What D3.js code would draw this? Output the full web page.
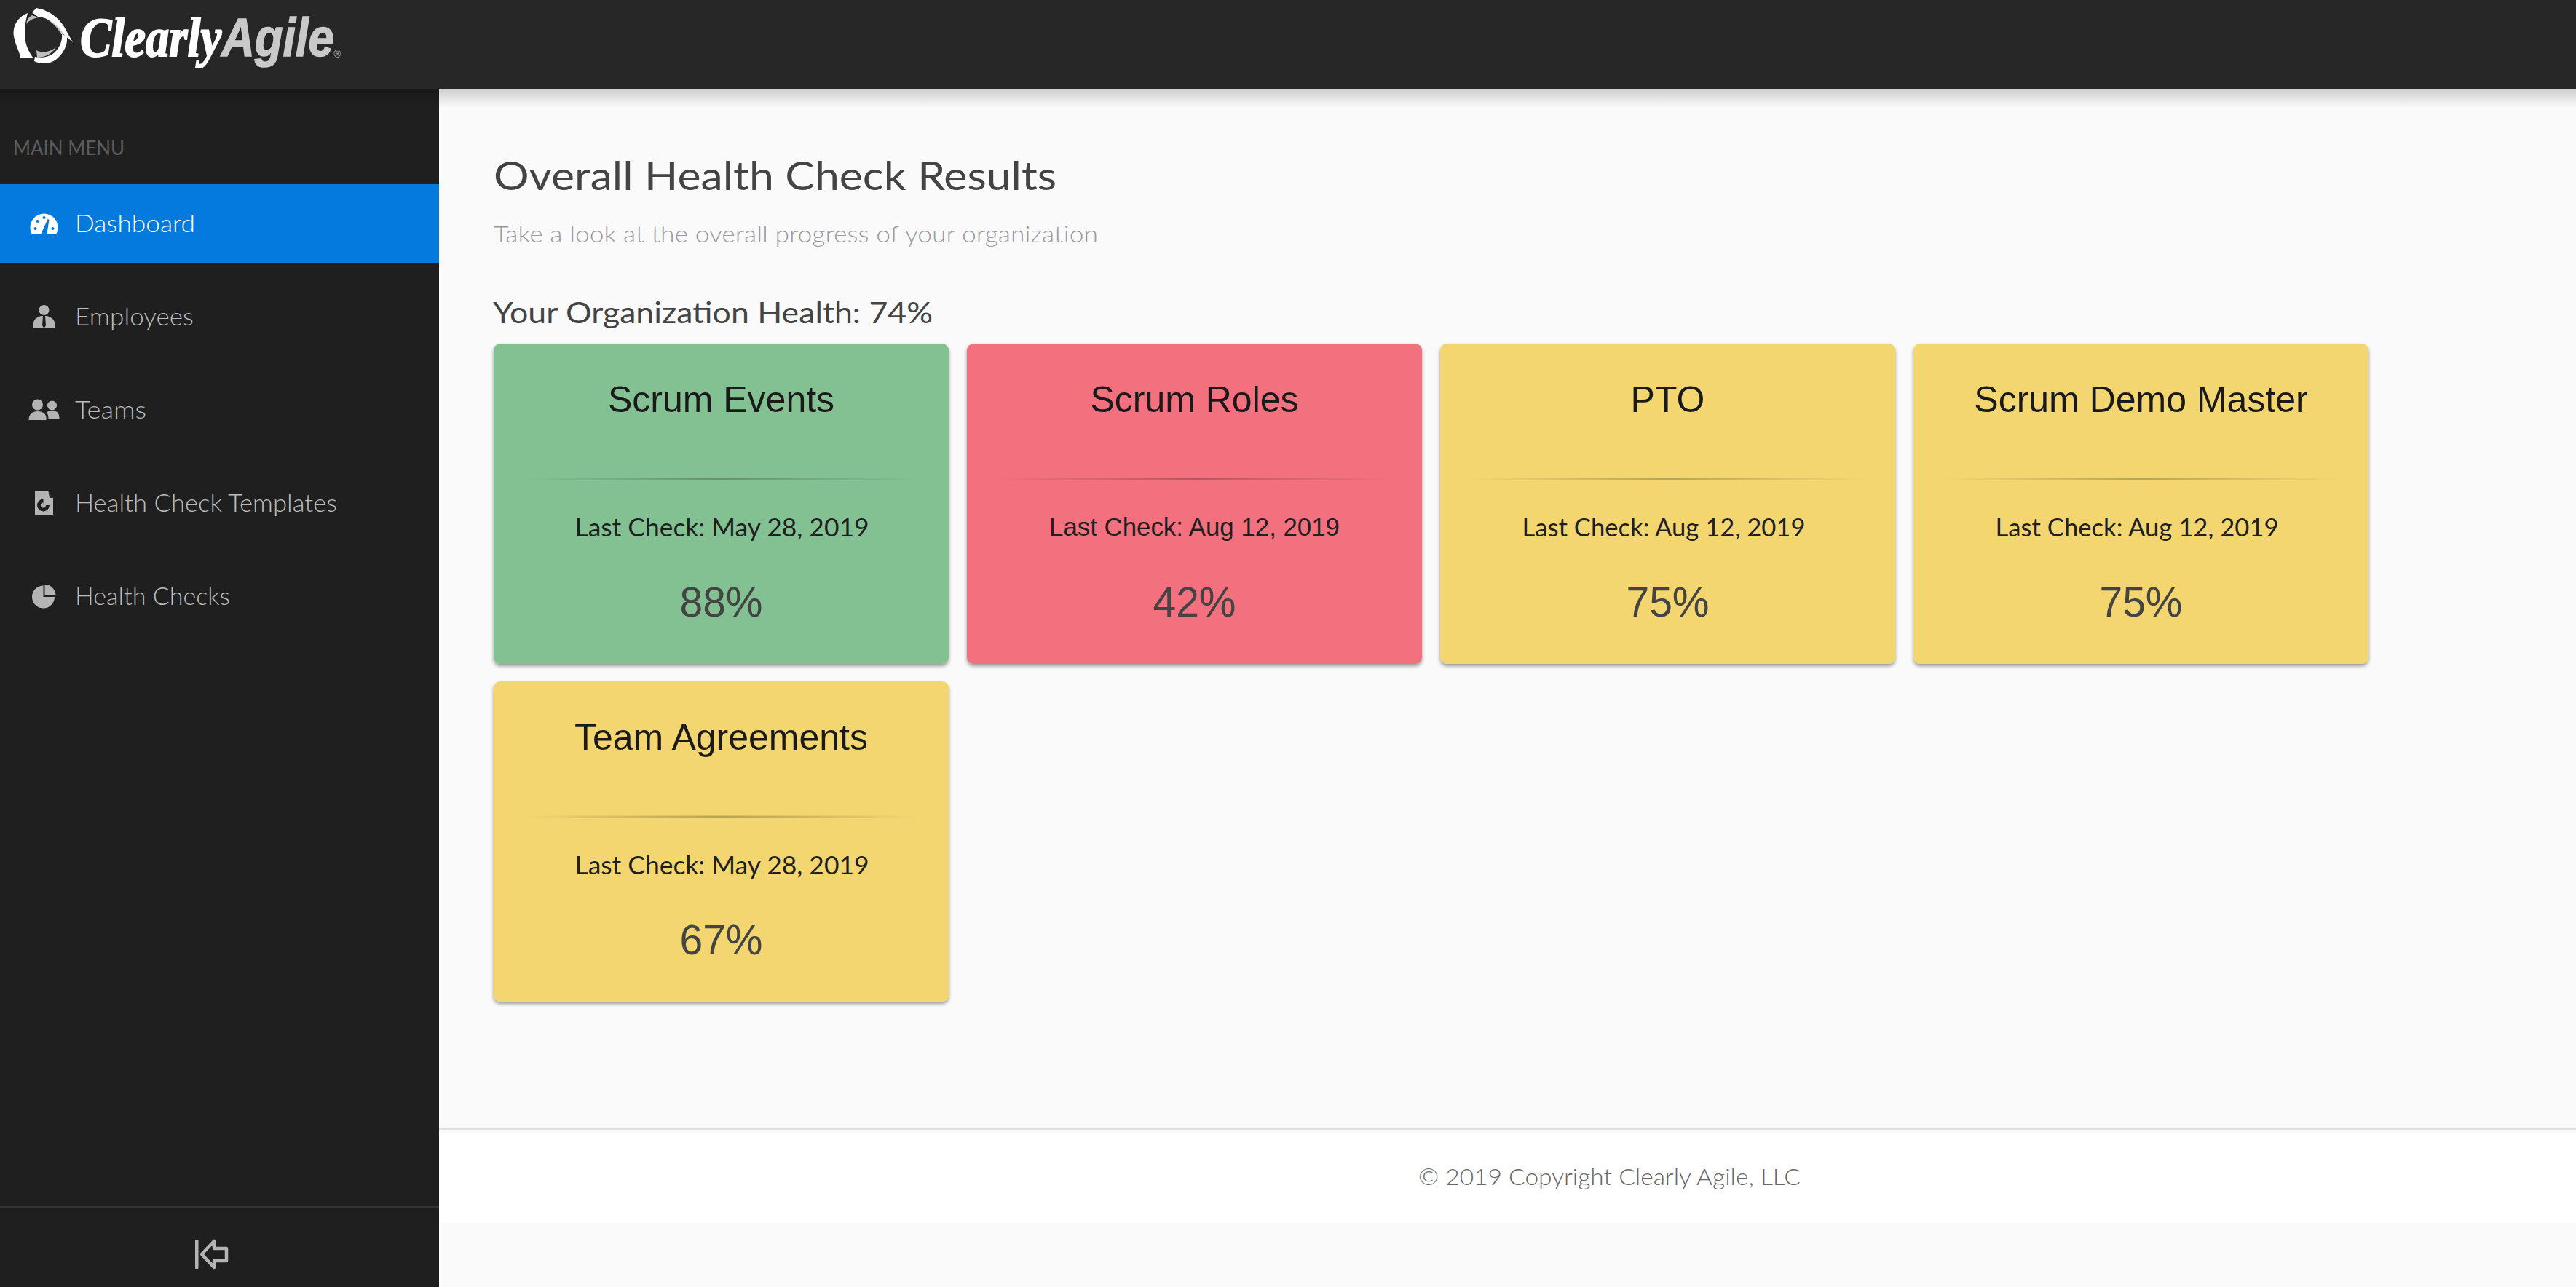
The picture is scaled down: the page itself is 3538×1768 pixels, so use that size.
<!DOCTYPE html>
<html>
<head>
<meta charset="utf-8">
<title>Overall Health Check Results</title>
<script src="https://cdnjs.cloudflare.com/ajax/libs/d3/7.8.5/d3.min.js"></script>
<style>
  html, body { margin: 0; padding: 0; background: #fafafa; }
  svg { display: block; }
  .q { font-family: "Lato", "Open Sans", sans-serif; font-weight: 300; }
  .a { font-family: "Liberation Sans", Arial, sans-serif; }
</style>
</head>
<body>
<svg id="page" width="3538" height="1768"></svg>
<script>
// Data
const menuLabels = ["Dashboard", "Employees", "Teams", "Health Check Templates", "Health Checks"];
const cardTitles = ["Scrum Events", "Scrum Roles", "PTO", "Scrum Demo Master", "Team Agreements"];
const cardDates = ["May 28, 2019", "Aug 12, 2019", "Aug 12, 2019", "Aug 12, 2019", "May 28, 2019"];
const cardScores = [88, 42, 75, 75, 67];
const organizationHealth = 74;

const cards = cardTitles.map((title, i) => ({ title, date: cardDates[i], score: cardScores[i], i }));

// Measured text widths: the page font is not installed so the stand-in gets squeezed to fit.
const menuWidths = { "Dashboard": 165, "Employees": 163, "Teams": 98, "Health Check Templates": 360, "Health Checks": 213 };
// The "Last Check" lines differ per card in the screenshot (the second one is even in another font)
const dateWidths = [404, 399, 389, 389, 404];
const dateOffsets = [1, 0, -5.5, -5.5, 1];
const dateClass = ["q", "a", "q", "q", "q"];

const width = 3538, height = 1768;
const headerH = 122, sideW = 603;
const svg = d3.select("#page");
const defs = svg.append("defs");

// Gradients and the card shadow
function vGradient(id, top, bottom) {
  const g = defs.append("linearGradient").attr("id", id).attr("x1", 0).attr("y1", 0).attr("x2", 0).attr("y2", 1);
  g.append("stop").attr("offset", 0).attr("stop-color", top);
  g.append("stop").attr("offset", 1).attr("stop-color", bottom);
}
vGradient("headShadow", "#cfcfcf", "#fafafa");
vGradient("sideShadow", "#181818", "#1f1f1f");

const dg = defs.append("linearGradient").attr("id", "divider");
dg.append("stop").attr("offset", 0).attr("stop-color", "#000").attr("stop-opacity", 0);
dg.append("stop").attr("offset", 0.5).attr("stop-color", "#000").attr("stop-opacity", 0.24);
dg.append("stop").attr("offset", 1).attr("stop-color", "#000").attr("stop-opacity", 0);

const shadow = defs.append("filter").attr("id", "cardShadow")
  .attr("x", "-5%").attr("y", "-5%").attr("width", "110%").attr("height", "110%");
shadow.append("feDropShadow").attr("dx", 0).attr("dy", 3).attr("stdDeviation", 2.5)
  .attr("flood-color", "#000").attr("flood-opacity", 0.4);

// Backgrounds
svg.append("rect").attr("width", width).attr("height", height).attr("fill", "#fafafa");
svg.append("rect").attr("x", sideW).attr("y", headerH).attr("width", width - sideW).attr("height", 26).attr("fill", "url(#headShadow)");
svg.append("rect").attr("y", headerH).attr("width", sideW).attr("height", height - headerH).attr("fill", "#1f1f1f");
svg.append("rect").attr("y", headerH).attr("width", sideW).attr("height", 24).attr("fill", "url(#sideShadow)");
svg.append("rect").attr("width", width).attr("height", headerH).attr("fill", "#272727");

// Logo
const logo = svg.append("g");
logo.append("path").attr("fill", "#bdbdbd")
  .attr("d", "M36,33C37,27 40,23 44,21L53,24C46,25 40,28 36,33ZM64,26C75,30 84,38 90,47L84,47C79,38 72,31 64,26ZM50,69C57,73 68,72 77,65C71,74 62,79 51,79Z");
logo.append("path").attr("fill", "#fff")
  .attr("d", "M38,18C23,24 17,37 19,50C21,62 27,71 28,79L46,80C39,71 34,60 34,46C34,34 36,26 38,18Z");
logo.append("path").attr("fill", "#fff")
  .attr("d", "M44,17L50,11C68,14 84,26 92,44L100,58L88,48C80,34 66,24 52,23Z");
logo.append("path").attr("fill", "#fff")
  .attr("d", "M47,84C60,90 73,87 81,78C89,70 93,60 92,50L85,47C86,56 82,65 75,72C67,79 56,80 48,78Z");

// one text element so the wordmark stays a single run
const wordmark = logo.append("text").attr("x", 110).attr("y", 77)
  .attr("textLength", 358).attr("lengthAdjust", "spacingAndGlyphs");
wordmark.append("tspan")
  .style("font-family", '"Liberation Serif", serif').style("font-weight", 700).style("font-style", "italic")
  .style("font-size", "76px").attr("fill", "#fff").attr("stroke", "#fff").attr("stroke-width", 2).text("Clearly");
wordmark.append("tspan").attr("class", "a").style("font-weight", 700).style("font-style", "italic")
  .style("font-size", "74px").attr("fill", "#c9c9c9").attr("stroke", "#c9c9c9").attr("stroke-width", 1.5).text("Agile");
wordmark.append("tspan").attr("class", "a").attr("dy", 2)
  .style("font-size", "15px").attr("fill", "#bbb").text("®");

// Sidebar menu
svg.append("text").attr("class", "q").attr("x", 18).attr("y", 213)
  .attr("textLength", 153).attr("lengthAdjust", "spacingAndGlyphs")
  .style("font-size", "26px").style("font-weight", 400).attr("fill", "#5c5c5c").text("MAIN MENU");

svg.append("rect").attr("y", 253).attr("width", sideW).attr("height", 108).attr("fill", "#047adf");

const menuY = d3.scalePoint().domain(menuLabels).range([319, 831]);
const sideBg = "#1f1f1f";

const menu = svg.append("g").selectAll("g").data(menuLabels).join("g")
  .attr("transform", d => `translate(0,${menuY(d)})`);

menu.append("text").attr("class", "q").attr("x", 103)
  .attr("textLength", d => menuWidths[d]).attr("lengthAdjust", "spacingAndGlyphs")
  .style("font-size", "33px")
  .attr("fill", (d, i) => (i === 0 ? "#fff" : "#bbb"))
  .text(d => d);

// Icons, one per menu row, centred on the row
const pie = d3.arc().innerRadius(0);
const iconDraw = [
  (g, fg, bg) => {
    g.append("path").attr("fill", fg).attr("d", "M-17,14A19,19 0 1 1 17,14Z");
    [[-12, 7], [-9, -3], [0, -8], [12, 7]].forEach(([x, y]) => g.append("circle").attr("cx", x).attr("cy", y).attr("r", 2).attr("fill", bg));
    g.append("path").attr("fill", bg).attr("d", "M-4,14L5,-6L7,-5L4,14Z");
  },
  (g, fg, bg) => {
    g.append("circle").attr("cy", -9).attr("r", 7).attr("fill", fg);
    g.append("path").attr("fill", fg).attr("d", "M-14.5,16L-14.5,9C-14.5,3 -8,0 -4,-1L4,-1C8,0 14.5,3 14.5,9L14.5,16Z");
    g.append("path").attr("fill", bg).attr("d", "M-1.5,-1L1.5,-1L2.5,12L0,16L-2.5,12Z");
  },
  (g, fg) => {
    g.append("circle").attr("cx", -9).attr("cy", -7).attr("r", 7.5).attr("fill", fg);
    g.append("circle").attr("cx", 11).attr("cy", -6).attr("r", 6.5).attr("fill", fg);
    g.append("path").attr("fill", fg).attr("d", "M-21,14C-21,6 -16,2 -9,2C-1,2 4,6 3,14Z");
    g.append("path").attr("fill", fg).attr("d", "M6,13C6,8 5,5 3,3C6,2 14,1 18,3C21,6 21,10 21,13Z");
  },
  (g, fg, bg) => {
    g.append("path").attr("fill", fg).attr("d", "M-12.5,-16L6,-16L12.5,-7L12.5,16L-12.5,16Z");
    g.append("path").attr("fill", bg).attr("d", "M6,-16L7.5,-7L12.5,-7Z");
    g.append("path").attr("fill", bg).attr("transform", "translate(-1,3)")
      .attr("d", pie({ outerRadius: 8.5, startAngle: Math.PI / 2, endAngle: Math.PI * 2 }));
    g.append("path").attr("fill", fg).attr("transform", "translate(-1,3)")
      .attr("d", pie({ outerRadius: 3.5, startAngle: Math.PI / 2, endAngle: Math.PI * 2 }));
  },
  (g, fg) => {
    g.append("path").attr("fill", fg).attr("transform", "translate(-1,1)")
      .attr("d", pie({ outerRadius: 15.5, startAngle: Math.PI / 2, endAngle: Math.PI * 2 }));
    g.append("path").attr("fill", fg).attr("transform", "translate(1,-1)")
      .attr("d", pie({ outerRadius: 15, startAngle: 0, endAngle: Math.PI / 2 }));
  }
];
menu.each(function (d, i) {
  const g = d3.select(this).append("g").attr("transform", "translate(60.5,-12)");
  iconDraw[i](g, i === 0 ? "#fff" : "#b4b4b4", i === 0 ? "#047adf" : sideBg);
});

// Sidebar collapse control
svg.append("rect").attr("y", 1657).attr("width", sideW).attr("height", 2).attr("fill", "#343434");
svg.append("rect").attr("x", 268).attr("y", 1703).attr("width", 4.5).attr("height", 40).attr("rx", 1).attr("fill", "#b4b4b4");
svg.append("path").attr("fill", "none").attr("stroke", "#b4b4b4").attr("stroke-width", 4.5).attr("stroke-linejoin", "round")
  .attr("d", "M277,1723L294,1705L294,1715L311,1715L311,1732L294,1732L294,1741Z");

// Headings
svg.append("text").attr("class", "q").attr("x", 678).attr("y", 261)
  .attr("textLength", 773).attr("lengthAdjust", "spacingAndGlyphs")
  .style("font-size", "55px").style("font-weight", 400).attr("fill", "#444").text("Overall Health Check Results");
svg.append("text").attr("class", "q").attr("x", 678).attr("y", 333)
  .attr("textLength", 830).attr("lengthAdjust", "spacingAndGlyphs")
  .style("font-size", "32px").attr("fill", "#9a9aa2").text("Take a look at the overall progress of your organization");
svg.append("text").attr("class", "q").attr("x", 677).attr("y", 444)
  .attr("textLength", 604).attr("lengthAdjust", "spacingAndGlyphs")
  .style("font-size", "41px").style("font-weight", 400).attr("fill", "#444").text(`Your Organization Health: ${organizationHealth}%`);

// Cards: a 4-column grid, coloured by score
const columns = 4;
const colX = d3.scaleBand().domain(d3.range(columns)).range([678, 3253]).paddingInner(25 / 650);
const rowY = d3.scaleBand().domain(d3.range(2)).range([472, 1376]).paddingInner(24 / 464);
const scoreColor = d3.scaleThreshold().domain([50, 80]).range(["#f36f7f", "#f4d66f", "#83c192"]);

const cardG = svg.append("g").selectAll("g").data(cards).join("g")
  .attr("transform", d => `translate(${colX(d.i % columns)},${rowY(Math.floor(d.i / columns))})`);

cardG.append("rect")
  .attr("width", colX.bandwidth()).attr("height", rowY.bandwidth())
  .attr("rx", 9).attr("fill", d => scoreColor(d.score)).attr("filter", "url(#cardShadow)");

const cx = colX.bandwidth() / 2;
cardG.append("text").attr("class", "a").attr("x", cx).attr("y", 93.5).attr("text-anchor", "middle")
  .style("font-size", "50px").attr("fill", "#1a1a1a").text(d => d.title);
cardG.append("rect").attr("x", 40).attr("y", 184.5).attr("width", colX.bandwidth() - 80).attr("height", 3.5).attr("fill", "url(#divider)");
cardG.append("text").attr("class", d => dateClass[d.i]).style("font-weight", 400)
  .attr("x", d => cx + dateOffsets[d.i]).attr("y", d => (dateClass[d.i] === "a" ? 263.5 : 265)).attr("text-anchor", "middle")
  .attr("textLength", d => dateWidths[d.i]).attr("lengthAdjust", "spacingAndGlyphs")
  .style("font-size", "35px").attr("fill", "#1f1f1f").text(d => `Last Check: ${d.date}`);
cardG.append("text").attr("class", "a").attr("x", cx).attr("y", 375).attr("text-anchor", "middle")
  .style("font-size", "57px").attr("fill", "#444").text(d => `${d.score}%`);

// Footer
svg.append("rect").attr("x", sideW).attr("y", 1550).attr("width", width - sideW).attr("height", 3).attr("fill", "#e0e0e0");
svg.append("rect").attr("x", sideW).attr("y", 1556).attr("width", width - sideW).attr("height", 124).attr("fill", "#fff");
svg.append("text").attr("class", "q").attr("x", 1948).attr("y", 1628)
  .attr("textLength", 525).attr("lengthAdjust", "spacingAndGlyphs")
  .style("font-size", "32px").attr("fill", "#666").text("© 2019 Copyright Clearly Agile, LLC");
</script>
</body>
</html>
